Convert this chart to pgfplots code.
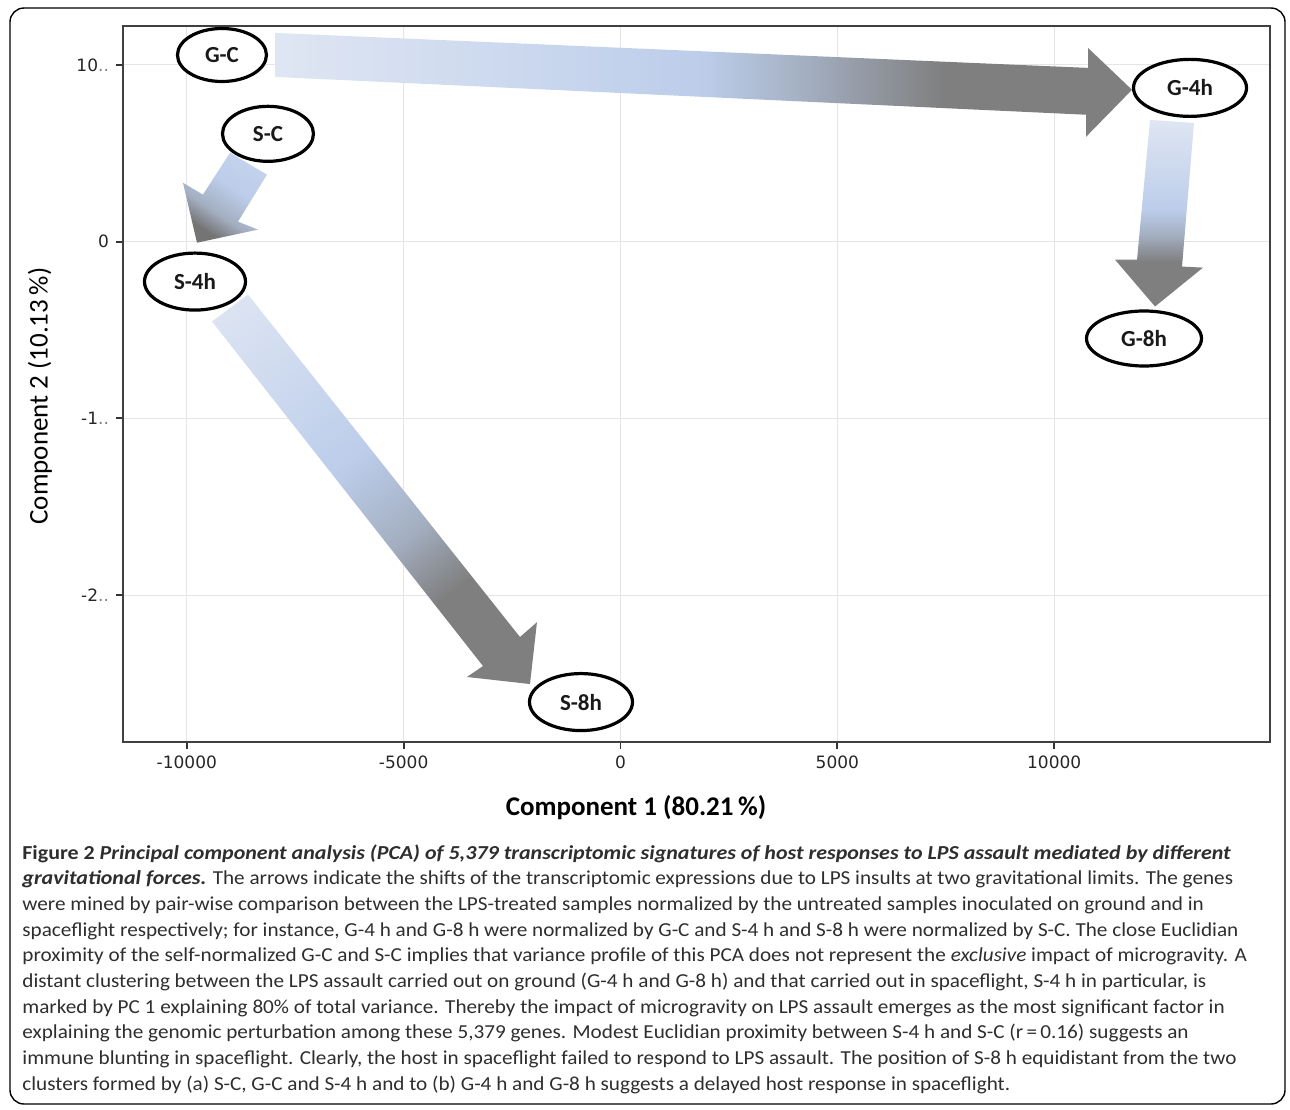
\documentclass[border=0pt]{standalone}
\usepackage{pgfplots}
\pgfplotsset{compat=1.18}
\usepackage{fontspec}
\setmainfont{Carlito}
\newfontfamily\tickfont{DejaVu Sans}
\newfontfamily\capfont{Carlito}[FakeStretch=1.07]
\newfontfamily\capfontB{Carlito}[FakeStretch=1.11]
\usetikzlibrary{shapes.geometric}
\definecolor{lbA}{HTML}{DFE6F3}
\definecolor{lbB}{HTML}{C8D5ED}
\definecolor{blA}{HTML}{BCCDEA}
\definecolor{mixA}{HTML}{A3AEC0}
\definecolor{grA}{HTML}{7F7F7F}
\definecolor{grB}{HTML}{747474}
\pgfdeclarehorizontalshading{arrH}{100bp}{color(0bp)=(lbA); color(25bp)=(lbA); color(50bp)=(blA); color(56bp)=(mixA); color(64bp)=(grA); color(100bp)=(grA)}
\pgfdeclareverticalshading{arrV}{100bp}{color(0bp)=(grA); color(37bp)=(grA); color(44bp)=(mixA); color(51bp)=(blA); color(75bp)=(lbA); color(100bp)=(lbA)}
\pgfdeclarehorizontalshading{arrDa}{100bp}{color(0bp)=(lbA); color(15bp)=(lbA); color(45bp)=(blA); color(58bp)=(mixA); color(68bp)=(grA); color(100bp)=(grA)}
\pgfdeclarehorizontalshading{arrDb}{100bp}{color(0bp)=(lbB); color(15bp)=(lbB); color(43bp)=(blA); color(60bp)=(mixA); color(72bp)=(grB); color(100bp)=(grB)}
\pgfplotstableread{
x y w h label
-9190 1.056 44.5 26.5 G-C
-8129 0.610 45.5 27.5 S-C
-9812 -0.226 50.5 28.5 S-4h
13133 0.870 56.5 28.5 G-4h
12072 -0.548 57.5 27.5 G-8h
-911 -2.605 51.5 28.5 S-8h
}\pcadata
\begin{document}
\begin{tikzpicture}
\path[use as bounding box] (0,0) rectangle (645pt,-554.5pt);
\draw[line width=0.7pt, rounded corners=7pt] (5pt,-4pt) rectangle (642.5pt,-552pt);
\begin{axis}[
  at={(61.5pt,-371pt)}, anchor=south west,
  scale only axis, width=573.5pt, height=358pt,
  xmin=-11472, xmax=14977, ymin=-2.831, ymax=1.220,
  scaled x ticks=false, scaled y ticks=false,
  xtick={-10000,-5000,0,5000,10000},
  xticklabels={-10000,-5000,0,5000,10000},
  ytick={-2,-1,0,1},
  yticklabels={-2{\color{gray}..},-1{\color{gray}..},0,10{\color{gray}..}},
  tick pos=left, tick align=outside,
  major tick length=3.5pt,
  tick style={line width=0.9pt, color=black!80},
  grid=major, major grid style={line width=0.6pt, color=black!10},
  axis line style={line width=1.3pt, color=black!75},
  ticklabel style={font=\tickfont\fontsize{8.5}{10}\selectfont, text=black!85},
  clip=false,
]
\shade[shading=arrH] (-7967,1.181) -- (10781,0.983) -- (10781,1.096) -- (11795,0.859) -- (10734,0.593) -- (10734,0.718) -- (-7967,0.932) -- cycle;
\shade[shading=arrDb, shading angle=-123] (-8152,0.379) -- (-8820,0.113) -- (-8359,0.068) -- (-9766,-0.006) -- (-10089,0.333) -- (-9628,0.266) -- (-9005,0.503) -- cycle;
\shade[shading=arrV] (12210,0.689) -- (13225,0.672) -- (12948,-0.141) -- (13432,-0.147) -- (12326,-0.367) -- (11403,-0.102) -- (11911,-0.102) -- cycle;
\shade[shading=arrDa, shading angle=-51.5] (-9420,-0.452) -- (-8590,-0.299) -- (-2318,-2.237) -- (-1926,-2.153) -- (-2087,-2.503) -- (-3540,-2.463) -- (-3171,-2.401) -- cycle;
\addplot[only marks, mark=none, nodes near coords, point meta=explicit symbolic,
  visualization depends on={\thisrow{w} \as \ew},
  visualization depends on={\thisrow{h} \as \eh},
  every node near coord/.style={ellipse, draw=black, fill=white, line width=1.6pt, inner sep=0pt, minimum width=\ew pt, minimum height=\eh pt, anchor=center, font=\bfseries\fontsize{11.5}{12}\selectfont, text=black!90}]
  table[meta=label] {\pcadata};
\end{axis}
\node[rotate=90, font=\fontsize{13.5}{16}\selectfont] at (20pt,-198pt) {Component 2 (10.13\,\%)};
\node[font=\bfseries\fontsize{13.5}{16}\selectfont] at (318pt,-404pt) {Component 1 (80.21\,\%)};
\begin{scope}[every node/.style={anchor=base west, inner sep=0pt, font=\capfont\fontsize{9.9}{12}\selectfont, text=black!82}]
\node at (11pt,-429.5pt) {{\capfontB\bfseries Figure 2} {\capfontB\bfseries\itshape Principal component analysis (PCA) of 5,379 transcriptomic signatures of host responses to LPS assault mediated by different}};
\node at (11pt,-442.35pt) {{\capfontB\bfseries\itshape gravitational forces.} The arrows indicate the shifts of the transcriptomic expressions due to LPS insults at two gravitational limits. The genes};
\node at (11pt,-455.2pt) {were mined by pair-wise comparison between the LPS-treated samples normalized by the untreated samples inoculated on ground and in};
\node at (11pt,-468.05pt) {spaceflight respectively; for instance, G-4 h and G-8 h were normalized by G-C and S-4 h and S-8 h were normalized by S-C. The close Euclidian};
\node at (11pt,-480.9pt) {proximity of the self-normalized G-C and S-C implies that variance profile of this PCA does not represent the \textit{exclusive} impact of microgravity. A};
\node at (11pt,-493.75pt) {distant clustering between the LPS assault carried out on ground (G-4 h and G-8 h) and that carried out in spaceflight, S-4 h in particular, is};
\node at (11pt,-506.6pt) {marked by PC 1 explaining 80\% of total variance. Thereby the impact of microgravity on LPS assault emerges as the most significant factor in};
\node at (11pt,-519.45pt) {explaining the genomic perturbation among these 5,379 genes. Modest Euclidian proximity between S-4 h and S-C (r\,=\,0.16) suggests an};
\node at (11pt,-532.3pt) {immune blunting in spaceflight. Clearly, the host in spaceflight failed to respond to LPS assault. The position of S-8 h equidistant from the two};
\node at (11pt,-545.15pt) {clusters formed by (a) S-C, G-C and S-4 h and to (b) G-4 h and G-8 h suggests a delayed host response in spaceflight.};
\end{scope}
\end{tikzpicture}
\end{document}
